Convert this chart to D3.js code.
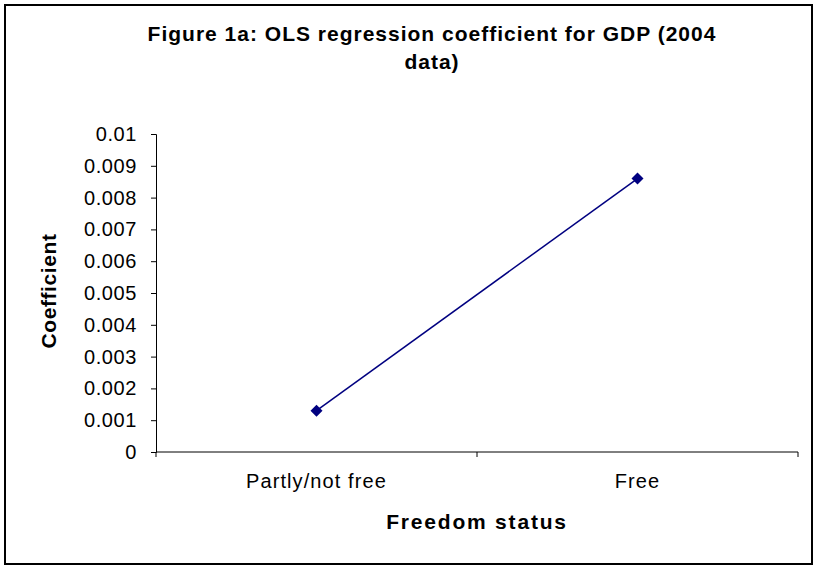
<!DOCTYPE html>
<html>
<head>
<meta charset="utf-8">
<script src="https://cdn.jsdelivr.net/npm/d3@7"></script>
<style>
  body { margin: 0; background: #fff; }
  text { font-family: Arial, "Liberation Sans", sans-serif; }
</style>
</head>
<body>
<div id="container"></div>
<script>
const categories = ["Partly/not free", "Free"];
const coefficients = [0.0013, 0.0086];
const yTicks = [0, 0.001, 0.002, 0.003, 0.004, 0.005, 0.006, 0.007, 0.008, 0.009, 0.01];
const titleLines = ["Figure 1a: OLS regression coefficient for GDP (2004", "data)"];

const width = 817, height = 569;
const plot = { left: 156, right: 798, top: 134, bottom: 452 };

const svg = d3.select("#container")
  .append("svg")
  .attr("width", width)
  .attr("height", height);

// chart frame
svg.append("rect")
  .attr("x", 5)
  .attr("y", 5)
  .attr("width", 807)
  .attr("height", 559)
  .attr("fill", "white")
  .attr("stroke", "black")
  .attr("stroke-width", 2);

let x = d3.scaleBand()
  .domain(categories)
  .range([plot.left, plot.right]);

let y = d3.scaleLinear()
  .domain([0, 0.01])
  .range([plot.bottom, plot.top]);

// y axis
let yAxis = svg.append("g")
  .attr("transform", `translate(${plot.left},0)`)
  .call(d3.axisLeft(y).tickValues(yTicks).tickSize(5).tickPadding(14).tickFormat(d => d === 0 ? "0" : String(+d.toFixed(3))));
yAxis.select(".domain").attr("stroke", "#000");
yAxis.selectAll(".tick line").attr("stroke", "#000");
yAxis.selectAll("text")
  .attr("font-size", 20)
  .attr("letter-spacing", 0.6)
  .attr("fill", "#000");

// x axis, ticks between categories
let xAxis = svg.append("g")
  .attr("transform", `translate(0,${plot.bottom})`);
xAxis.append("line")
  .attr("x1", plot.left).attr("x2", plot.right)
  .attr("stroke", "#000");
xAxis.selectAll(".xtick")
  .data([...categories.map(c => x(c)), plot.right])
  .join("line")
  .attr("class", "xtick")
  .attr("x1", d => d).attr("x2", d => d)
  .attr("y1", 0).attr("y2", 5)
  .attr("stroke", "#000");
xAxis.selectAll(".xlabel")
  .data(categories)
  .join("text")
  .attr("class", "xlabel")
  .attr("x", d => x(d) + x.bandwidth() / 2)
  .attr("y", 36)
  .attr("text-anchor", "middle")
  .attr("font-size", 20)
  .attr("letter-spacing", 1.1)
  .text(d => d);

// line + markers
let line = d3.line()
  .x((d, i) => x(categories[i]) + x.bandwidth() / 2)
  .y(d => y(d));

svg.append("path")
  .datum(coefficients)
  .attr("d", line)
  .attr("fill", "none")
  .attr("stroke", "#000080")
  .attr("stroke-width", 1.5);

svg.selectAll(".marker")
  .data(coefficients)
  .join("path")
  .attr("class", "marker")
  .attr("d", d3.symbol(d3.symbolSquare, 72))
  .attr("transform", (d, i) => `translate(${x(categories[i]) + x.bandwidth() / 2},${y(d)}) rotate(45)`)
  .attr("fill", "#000080");

// titles
svg.selectAll(".title")
  .data(titleLines)
  .join("text")
  .attr("class", "title")
  .attr("x", 432)
  .attr("y", (d, i) => 41 + i * 28)
  .attr("text-anchor", "middle")
  .attr("font-size", 21)
  .attr("font-weight", "bold")
  .attr("letter-spacing", 1)
  .text(d => d);

svg.append("text")
  .attr("x", (plot.left + plot.right) / 2)
  .attr("y", 529)
  .attr("text-anchor", "middle")
  .attr("font-size", 21)
  .attr("font-weight", "bold")
  .attr("letter-spacing", 1.8)
  .text("Freedom status");

svg.append("text")
  .attr("transform", "translate(56,291) rotate(-90)")
  .attr("text-anchor", "middle")
  .attr("font-size", 21)
  .attr("font-weight", "bold")
  .attr("letter-spacing", 0.6)
  .text("Coefficient");
</script>
</body>
</html>
